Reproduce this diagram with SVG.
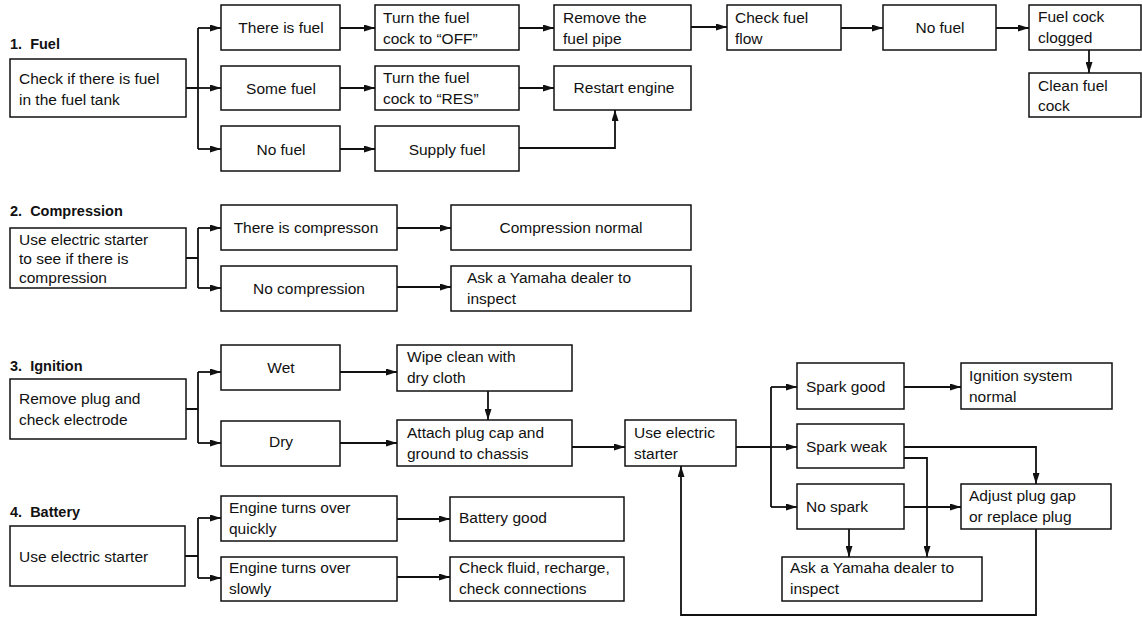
<svg xmlns="http://www.w3.org/2000/svg" width="1142" height="618" viewBox="0 0 1142 618">
<style>
.bg{fill:#fff}
.box{fill:#fff;stroke:#111;stroke-width:1.5}
.t{font-family:"Liberation Sans",Arial,Helvetica,sans-serif;font-size:15.5px;fill:#111}
.c{text-anchor:middle}
.h{font-family:"Liberation Sans",Arial,Helvetica,sans-serif;font-size:14.5px;font-weight:bold;fill:#111;white-space:pre}
.ln{fill:none;stroke:#111;stroke-width:1.8}
.ar{fill:none;stroke:#111;stroke-width:1.8;marker-end:url(#ah)}
</style>
<defs>
<marker id="ah" viewBox="0 0 11 7" refX="11" refY="3.5" markerWidth="11" markerHeight="7" markerUnits="userSpaceOnUse" orient="auto">
<path d="M0,0 L11,3.5 L0,7 z" fill="#111"/>
</marker>
</defs>
<rect class="bg" x="0" y="0" width="1142" height="618"/>

<g id="labels">
<text class="h" x="10" y="49" xml:space="preserve">1.  Fuel</text>
<text class="h" x="10" y="216" xml:space="preserve">2.  Compression</text>
<text class="h" x="10" y="371" xml:space="preserve">3.  Ignition</text>
<text class="h" x="10" y="517" xml:space="preserve">4.  Battery</text>
</g>

<g id="connectors">
<!-- Fuel -->
<path class="ln" d="M186,88 H198 M198,28 V149"/>
<path class="ar" d="M198,28 H221"/>
<path class="ar" d="M198,88 H221"/>
<path class="ar" d="M198,149 H221"/>
<path class="ar" d="M340,28 H375"/>
<path class="ar" d="M519,28 H554"/>
<path class="ar" d="M691,27 H727"/>
<path class="ar" d="M841,28 H883"/>
<path class="ar" d="M996,28 H1029"/>
<path class="ar" d="M1089,50 V73"/>
<path class="ar" d="M340,88 H375"/>
<path class="ar" d="M519,88 H554"/>
<path class="ar" d="M340,149 H375"/>
<path class="ar" d="M519,148 H615 V110"/>
<!-- Compression -->
<path class="ln" d="M186,258 H198 M198,228 V288"/>
<path class="ar" d="M198,228 H221"/>
<path class="ar" d="M198,288 H221"/>
<path class="ar" d="M397,228 H451"/>
<path class="ar" d="M397,287 H451"/>
<!-- Ignition -->
<path class="ln" d="M186,409 H198 M198,372 V443"/>
<path class="ar" d="M198,372 H221"/>
<path class="ar" d="M198,443 H221"/>
<path class="ar" d="M340,372 H397"/>
<path class="ar" d="M340,443 H397"/>
<path class="ar" d="M488,391 V420"/>
<path class="ar" d="M572,447 H625"/>
<path class="ln" d="M736,447 H771 M771,387 V507"/>
<path class="ar" d="M771,387 H797"/>
<path class="ar" d="M771,447 H797"/>
<path class="ar" d="M771,507 H797"/>
<path class="ar" d="M904,387 H961"/>
<path class="ar" d="M904,447 H1036 V484"/>
<path class="ar" d="M904,458 H927 V557"/>
<path class="ar" d="M904,507 H961"/>
<path class="ar" d="M849,529 V557"/>
<path class="ar" d="M1036,529 V615 H681 V466"/>
<!-- Battery -->
<path class="ln" d="M185,556 H198 M198,518 V578"/>
<path class="ar" d="M198,518 H221"/>
<path class="ar" d="M198,578 H221"/>
<path class="ar" d="M397,519 H450"/>
<path class="ar" d="M397,577 H450"/>
</g>

<!-- Fuel nodes -->
<g id="fuel-check"><rect class="box" x="10" y="59" width="176" height="58"/>
<text class="t" x="19" y="84">Check if there is fuel</text><text class="t" x="19" y="105">in the fuel tank</text></g>
<g id="fuel-there"><rect class="box" x="221" y="5" width="119" height="45"/><text class="t c" x="281" y="33">There is fuel</text></g>
<g id="fuel-some"><rect class="box" x="221" y="66" width="119" height="44"/><text class="t c" x="281" y="94">Some fuel</text></g>
<g id="fuel-none"><rect class="box" x="221" y="126" width="119" height="45"/><text class="t c" x="281" y="155">No fuel</text></g>
<g id="fuel-off"><rect class="box" x="375" y="5" width="144" height="45"/>
<text class="t" x="383" y="23">Turn the fuel</text><text class="t" x="383" y="44">cock to “OFF”</text></g>
<g id="fuel-res"><rect class="box" x="375" y="66" width="144" height="44"/>
<text class="t" x="383" y="83">Turn the fuel</text><text class="t" x="383" y="104">cock to “RES”</text></g>
<g id="fuel-supply"><rect class="box" x="375" y="126" width="144" height="45"/><text class="t c" x="447" y="155">Supply fuel</text></g>
<g id="fuel-remove"><rect class="box" x="554" y="5" width="137" height="45"/>
<text class="t" x="563" y="23">Remove the</text><text class="t" x="563" y="44">fuel pipe</text></g>
<g id="fuel-restart"><rect class="box" x="554" y="66" width="137" height="44"/><text class="t c" x="624" y="93">Restart engine</text></g>
<g id="fuel-flow"><rect class="box" x="727" y="5" width="114" height="45"/>
<text class="t" x="735" y="23">Check fuel</text><text class="t" x="735" y="44">flow</text></g>
<g id="fuel-nofuel"><rect class="box" x="883" y="5" width="113" height="45"/><text class="t c" x="940" y="33">No fuel</text></g>
<g id="fuel-clogged"><rect class="box" x="1029" y="5" width="112" height="45"/>
<text class="t" x="1038" y="22">Fuel cock</text><text class="t" x="1038" y="43">clogged</text></g>
<g id="fuel-clean"><rect class="box" x="1029" y="73" width="112" height="44"/>
<text class="t" x="1038" y="91">Clean fuel</text><text class="t" x="1038" y="111">cock</text></g>

<!-- Compression nodes -->
<g id="comp-check"><rect class="box" x="10" y="228" width="176" height="60"/>
<text class="t" x="19" y="245">Use electric starter</text><text class="t" x="19" y="264">to see if there is</text><text class="t" x="19" y="283">compression</text></g>
<g id="comp-yes"><rect class="box" x="221" y="205" width="176" height="45"/><text class="t c" x="306" y="233">There is compresson</text></g>
<g id="comp-no"><rect class="box" x="221" y="266" width="176" height="45"/><text class="t c" x="309" y="294">No compression</text></g>
<g id="comp-normal"><rect class="box" x="451" y="205" width="240" height="45"/><text class="t c" x="571" y="233">Compression normal</text></g>
<g id="comp-dealer"><rect class="box" x="451" y="266" width="240" height="45"/>
<text class="t" x="467" y="283">Ask a Yamaha dealer to</text><text class="t" x="467" y="304">inspect</text></g>

<!-- Ignition nodes -->
<g id="ign-check"><rect class="box" x="10" y="379" width="176" height="60"/>
<text class="t" x="19" y="404">Remove plug and</text><text class="t" x="19" y="425">check electrode</text></g>
<g id="ign-wet"><rect class="box" x="221" y="345" width="119" height="45"/><text class="t c" x="281" y="373">Wet</text></g>
<g id="ign-dry"><rect class="box" x="221" y="421" width="119" height="45"/><text class="t c" x="281" y="447">Dry</text></g>
<g id="ign-wipe"><rect class="box" x="397" y="345" width="175" height="46"/>
<text class="t" x="407" y="362">Wipe clean with</text><text class="t" x="407" y="383">dry cloth</text></g>
<g id="ign-attach"><rect class="box" x="397" y="420" width="175" height="46"/>
<text class="t" x="407" y="438">Attach plug cap and</text><text class="t" x="407" y="459">ground to chassis</text></g>
<g id="ign-starter"><rect class="box" x="625" y="420" width="111" height="46"/>
<text class="t" x="634" y="438">Use electric</text><text class="t" x="634" y="459">starter</text></g>
<g id="ign-good"><rect class="box" x="797" y="363" width="107" height="46"/><text class="t" x="806" y="392">Spark good</text></g>
<g id="ign-weak"><rect class="box" x="797" y="424" width="107" height="44"/><text class="t" x="806" y="452">Spark weak</text></g>
<g id="ign-nospark"><rect class="box" x="797" y="484" width="107" height="45"/><text class="t" x="806" y="512">No spark</text></g>
<g id="ign-normal"><rect class="box" x="961" y="363" width="151" height="46"/>
<text class="t" x="969" y="381">Ignition system</text><text class="t" x="969" y="402">normal</text></g>
<g id="ign-adjust"><rect class="box" x="961" y="484" width="150" height="45"/>
<text class="t" x="969" y="501">Adjust plug gap</text><text class="t" x="969" y="522">or replace plug</text></g>
<g id="ign-dealer"><rect class="box" x="782" y="557" width="200" height="44"/>
<text class="t" x="790" y="573">Ask a Yamaha dealer to</text><text class="t" x="790" y="594">inspect</text></g>

<!-- Battery nodes -->
<g id="bat-check"><rect class="box" x="10" y="526" width="175" height="60"/><text class="t" x="19" y="562">Use electric starter</text></g>
<g id="bat-quick"><rect class="box" x="221" y="496" width="176" height="45"/>
<text class="t" x="229" y="513">Engine turns over</text><text class="t" x="229" y="534">quickly</text></g>
<g id="bat-slow"><rect class="box" x="221" y="557" width="176" height="44"/>
<text class="t" x="229" y="573">Engine turns over</text><text class="t" x="229" y="594">slowly</text></g>
<g id="bat-good"><rect class="box" x="450" y="497" width="174" height="44"/><text class="t" x="459" y="523">Battery good</text></g>
<g id="bat-fluid"><rect class="box" x="450" y="557" width="174" height="44"/>
<text class="t" x="459" y="573">Check fluid, recharge,</text><text class="t" x="459" y="594">check connections</text></g>
</svg>
